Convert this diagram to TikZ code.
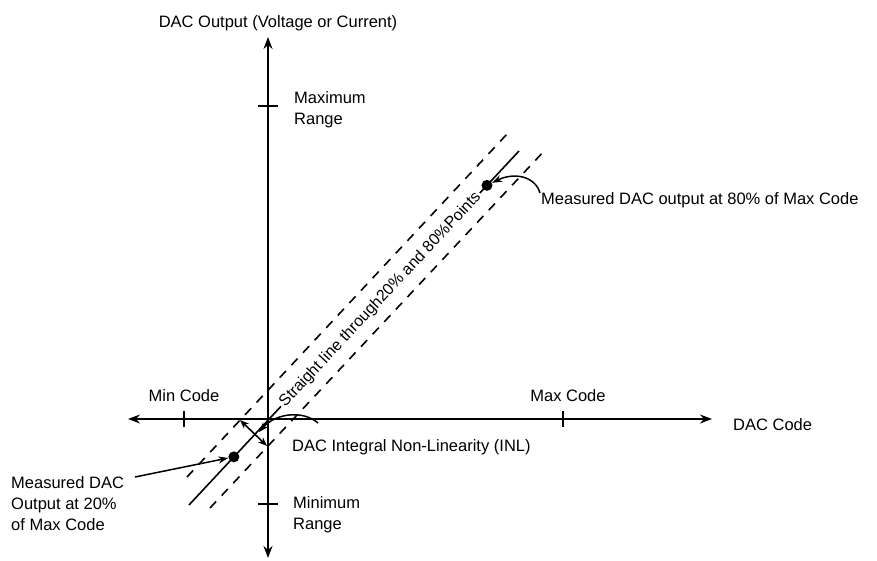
\documentclass[tikz,border=0pt]{standalone}
\usepackage{fontspec}
\setmainfont{Liberation Sans}
\usetikzlibrary{arrows.meta,calc}
\begin{document}
\begin{tikzpicture}[x=1pt,y=-1pt,font=\fontsize{16.5}{21}\selectfont]
\tikzset{
  axisline/.style={line width=1.6pt,{Stealth[length=12pt,width=9pt]}-{Stealth[length=12pt,width=9pt]}},
  tickmark/.style={line width=1.4pt},
  fitline/.style={line width=1.6pt},
  bandline/.style={line width=1.6pt,dash pattern=on 9pt off 8pt},
  pointer/.style={line width=1.5pt,-{Stealth[length=10pt,width=7pt]}},
  inlarrow/.style={line width=1.6pt,{Stealth[length=9pt,width=7pt]}-{Stealth[length=9pt,width=7pt]}},
  markdot/.style={circle,fill=black,inner sep=0pt,minimum size=11pt},
  lbl/.style={inner sep=0pt,text=black}
}
\useasboundingbox (0,0) rectangle (877,561);
% axes
\coordinate (yT) at (268,37);
\coordinate (yB) at (268,558);
\coordinate (xL) at (128,419);
\coordinate (xR) at (712,419);
\draw[axisline] (yB) -- (yT);
\draw[axisline] (xL) -- (xR);
% ticks
\coordinate (tMax) at (268,106);
\coordinate (tMin) at (268,504);
\coordinate (tMinC) at (184,419);
\coordinate (tMaxC) at (563,419);
\draw[tickmark] ([xshift=-10pt]tMax) -- ([xshift=10pt]tMax);
\draw[tickmark] ([xshift=-10pt]tMin) -- ([xshift=10pt]tMin);
\draw[tickmark] ([yshift=-8pt]tMinC) -- ([yshift=8pt]tMinC);
\draw[tickmark] ([yshift=-8pt]tMaxC) -- ([yshift=8pt]tMaxC);
% axis labels
\node[lbl,anchor=base] (ttl) at (278,28) {DAC Output (Voltage or Current)};
\node[lbl,anchor=base west,align=left] (maxr) at (294,125) {Maximum\\Range};
\node[lbl,anchor=base west,align=left] (minr) at (293,529) {Minimum\\Range};
\node[lbl,anchor=base] (minc) at (184,401.5) {Min Code};
\node[lbl,anchor=base] (maxc) at (568,401.5) {Max Code};
\node[lbl,anchor=base west] (dacc) at (733,430) {DAC Code};
% band
\coordinate (uA) at (187,477);
\coordinate (uB) at (508,133);
\coordinate (lA) at (210,508);
\coordinate (lB) at (546,149);
\draw[bandline] (uA) -- (uB);
\draw[bandline] (lA) -- (lB);
% fit line
\coordinate (fA) at (189,505);
\coordinate (fB) at (519,151);
\draw[fitline] (fA) -- node[pos=0.58,sloped,fill=white,inner sep=2pt,text=black,font=\fontsize{16}{20}\selectfont] (slbl) {Straight line through20\% and 80\%Points} (fB);
\node[markdot] (d20) at ($(fA)!0.136!(fB)$) {};
\node[markdot] (d80) at ($(fA)!0.903!(fB)$) {};
% INL
\coordinate (iA) at (240,420);
\coordinate (iB) at (267,446);
\draw[inlarrow] (iA) -- (iB);
\node[lbl,anchor=base west] (inl) at (292,451) {DAC Integral Non-Linearity (INL)};
\coordinate (inlS) at (318,423);
\coordinate (inlE) at (259,432);
\draw[pointer] (inlS) .. controls (303,410) and (276,413) .. (inlE);
% 80% label
\node[lbl,anchor=base west] (m80) at (541,205) {Measured DAC output at 80\% of Max Code};
\coordinate (m80S) at (540,193);
\draw[pointer] (m80S) .. controls (535,176) and (514,172) .. (d80);
% 20% label
\node[lbl,anchor=base west,align=left] (m20) at (11,530) {Measured DAC\\Output at 20\%\\of Max Code};
\coordinate (m20S) at (135,477);
\draw[pointer] (m20S) -- (d20);
\end{tikzpicture}
\end{document}
